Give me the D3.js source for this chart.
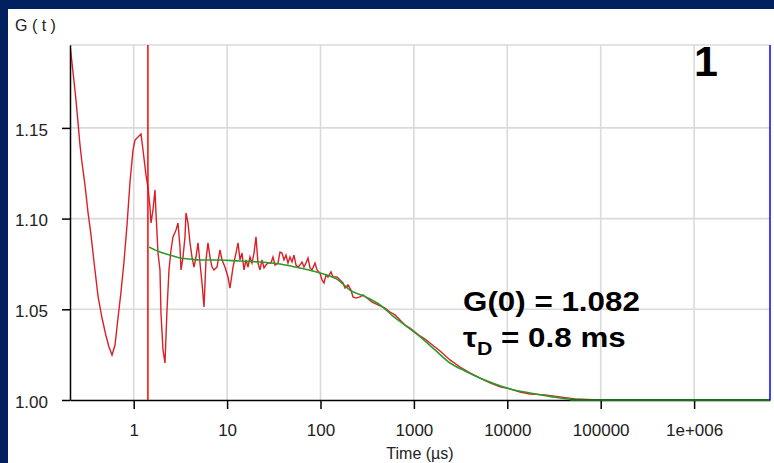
<!DOCTYPE html>
<html>
<head>
<meta charset="utf-8">
<script src="https://cdn.jsdelivr.net/npm/d3@7"></script>
<style>
  body { margin: 0; background: #002060; }
  svg { display: block; }
</style>
</head>
<body>
<div id="chart"></div>
<script>
// correlation data, time in microseconds
var redTime = [
  0.208,0.218,0.230,0.241,0.253,0.266,0.279,0.301,0.324,0.349,
  0.376,0.415,0.458,0.506,0.544,0.586,0.631,0.679,0.731,0.787,
  0.848,0.913,0.983,1.033,1.112,1.197,1.258,1.354,1.422,1.494,
  1.532,1.609,1.690,1.733,1.820,1.912,1.959,2.059,2.163,2.273,
  2.387,2.508,2.635,2.838,2.981,3.131,3.209,3.372,3.542,3.631,
  3.814,4.007,4.209,4.422,4.645,4.880,5.127,5.386,5.658,5.944,
  6.244,6.560,6.891,7.239,7.797,8.395,8.819,9.495,10.22,10.74,
  11.57,12.45,13.09,13.74,14.44,15.17,15.94,16.74,17.59,18.48,
  19.41,20.39,21.42,22.50,23.64,24.83,26.09,27.41,29.51,31.00,
  32.57,35.07,36.85,38.71,40.67,42.72,44.88,47.15,49.54,52.04,
  54.67,57.43,60.33,63.38,66.59,69.96,73.49,77.20,81.10,87.35,
  91.75,98.76,103.8,109.0,114.5,120.3,129.6,136.1,150.2,161.8,
  174.1,183.0,197.0,212.1,222.8,240.0,264.8,285.1,314.8,356.0,
  412.8,490.4,554.8,627.8,710.0,803.1,908.2,1027,1162,1315,
  1487,1903,2435,3116,3987,5101,6528,8353,10690,13680,
  17500,25330,36660,53060,98280,1157000,6496000
];
var redG = [
  1.1957,1.1863,1.1753,1.1654,1.1533,1.1406,1.1312,1.1185,1.1036,1.0910,
  1.0761,1.0573,1.0452,1.0353,1.0292,1.0248,1.0303,1.0452,1.0595,1.0761,
  1.0965,1.1202,1.1378,1.1433,1.1450,1.1466,1.1378,1.1240,1.1174,1.1064,
  1.0976,1.1047,1.1158,1.1031,1.0810,1.0717,1.0480,1.0276,1.0204,1.0496,
  1.0717,1.0827,1.0899,1.0937,1.0976,1.0843,1.0717,1.0788,1.0899,1.1031,
  1.0976,1.0866,1.0788,1.0733,1.0788,1.0866,1.0755,1.0645,1.0513,1.0772,
  1.0866,1.0788,1.0733,1.0717,1.0733,1.0827,1.0772,1.0733,1.0678,1.0617,
  1.0733,1.0810,1.0866,1.0772,1.0810,1.0717,1.0772,1.0733,1.0788,1.0755,
  1.0810,1.0899,1.0755,1.0717,1.0772,1.0728,1.0744,1.0755,1.0755,1.0788,
  1.0744,1.0755,1.0816,1.0810,1.0772,1.0799,1.0755,1.0788,1.0761,1.0799,
  1.0744,1.0733,1.0744,1.0761,1.0733,1.0755,1.0783,1.0728,1.0717,1.0755,
  1.0717,1.0700,1.0662,1.0645,1.0689,1.0678,1.0706,1.0678,1.0678,1.0662,
  1.0645,1.0617,1.0634,1.0606,1.0568,1.0562,1.0568,1.0579,1.0562,1.0540,
  1.0524,1.0507,1.0485,1.0469,1.0441,1.0413,1.0397,1.0375,1.0353,1.0336,
  1.0314,1.0270,1.0221,1.0182,1.0149,1.0121,1.0094,1.0072,1.0061,1.0044,
  1.0033,1.0028,1.0017,1.0006,1.0000,1.0000,1.0000
];

// fitted curve
var fitTime = [1.46,1.91,2.45,3.13,4.0,5.13,8.4,13.7,22.5,36.9,
  60.3,98.8,154,207,300,434,597,803,1162,1683,
  2435,3525,5101,7386,10690,17500,28650,46880,98280,6496000];
var fitG = [1.0843,1.0816,1.0799,1.0783,1.0777,1.0772,1.0772,1.0766,1.0761,1.0750,
  1.0728,1.0700,1.0662,1.0606,1.0570,1.0524,1.0463,1.0413,1.0349,1.0276,
  1.0204,1.0160,1.0121,1.0088,1.0061,1.0039,1.0020,1.0004,1.0000,1.0000];

var cursorTime = 1.42;
var xTicks = [1, 10, 100, 1000, 10000, 100000, 1000000];
var xTickLabels = ["1", "10", "100", "1000", "10000", "100000", "1e+006"];
var yTicks = [1.00, 1.05, 1.10, 1.15];
var xRange = [0.208, 6496000];
var yRange = [1.0, 1.1957];

var W = 774, H = 463;
var pLeft = 70, pRight = 770, pTop = 45, pBottom = 400;
var font = "'Liberation Sans', Arial, sans-serif";

var svg = d3.select("#chart").append("svg")
  .attr("width", W).attr("height", H);

// white panel on the navy slide
svg.append("rect").attr("x", 8).attr("y", 9)
  .attr("width", W - 8).attr("height", H - 9).style("fill", "#fff");

var x = d3.scaleLog().domain(xRange).range([pLeft, pRight]);
var y = d3.scaleLinear().domain(yRange).range([pBottom, pTop]);

svg.append("clipPath").attr("id", "plot")
  .append("rect").attr("x", pLeft).attr("y", pTop)
  .attr("width", pRight - pLeft).attr("height", pBottom - pTop + 2);

// grid
var grid = svg.append("g").style("stroke", "#dadada").style("stroke-width", 1.6);
grid.selectAll("line.v").data(xTicks).enter().append("line")
  .attr("x1", function(d) { return x(d); }).attr("x2", function(d) { return x(d); })
  .attr("y1", pTop).attr("y2", pBottom);
grid.selectAll("line.h").data(yTicks.slice(1).concat([yRange[1]])).enter().append("line")
  .attr("x1", pLeft).attr("x2", pRight)
  .attr("y1", function(d) { return y(d); }).attr("y2", function(d) { return y(d); });

// data
var red = d3.zip(redTime, redG);
var fit = d3.zip(fitTime, fitG);
var line = d3.line()
  .x(function(d) { return x(d[0]); })
  .y(function(d) { return y(d[1]); });

var plot = svg.append("g").attr("clip-path", "url(#plot)");
plot.append("path").datum(red).attr("d", line)
  .style("fill", "none").style("stroke", "#d92027").style("stroke-width", 1.4);

// axes
var xAxis = svg.append("g").attr("transform", "translate(0," + pBottom + ")")
  .call(d3.axisBottom(x).tickValues(xTicks)
    .tickFormat(function(d, i) { return xTickLabels[i]; })
    .tickSize(9).tickSizeOuter(0).tickPadding(15));
var yAxis = svg.append("g").attr("transform", "translate(" + pLeft + ",0)")
  .call(d3.axisLeft(y).tickValues(yTicks).tickFormat(d3.format(".2f"))
    .tickSize(8).tickSizeOuter(0).tickPadding(14));
[xAxis, yAxis].forEach(function(a) {
  a.selectAll("path, line").style("stroke", "#000").style("stroke-width", 1.5);
  a.selectAll("text").style("font-family", font).style("font-size", "17px").style("fill", "#222");
});
yAxis.selectAll("text").attr("dy", "0.42em");

// fit drawn over the axis line, like the original
var fitLayer = svg.append("g").attr("clip-path", "url(#plot)");
fitLayer.append("path").datum(fit).attr("d", line.curve(d3.curveMonotoneX))
  .style("fill", "none").style("stroke", "#2b9a2b").style("stroke-width", 1.6);
fitLayer.append("line").attr("x1", x(fitTime[fitTime.length - 3])).attr("x2", pRight)
  .attr("y1", y(1)).attr("y2", y(1))
  .style("stroke", "#1c6e1c").style("stroke-width", 2);

// cursor and right edge marker
svg.append("line").attr("x1", x(cursorTime)).attr("x2", x(cursorTime))
  .attr("y1", pTop).attr("y2", pBottom).style("stroke", "#ff0000").style("stroke-width", 1.5);
svg.append("line").attr("x1", pRight).attr("x2", pRight)
  .attr("y1", pTop).attr("y2", pBottom).style("stroke", "#0000ff").style("stroke-width", 1.5);

// labels
svg.append("text").attr("x", 15).attr("y", 31).text("G ( t )")
  .style("font-family", font).style("font-size", "16px").style("fill", "#222");
svg.append("text").attr("x", 420).attr("y", 459).text("Time (µs)")
  .attr("text-anchor", "middle")
  .style("font-family", font).style("font-size", "16px").style("fill", "#222");

svg.append("text").attr("x", 694).attr("y", 76).text("1")
  .style("font-family", font).style("font-size", "43px").style("font-weight", "bold");

var note = svg.append("g").attr("transform", "translate(463,0) scale(1.12,1)")
  .style("font-family", font).style("font-weight", "bold").style("font-size", "28px");
note.append("text").attr("x", 0).attr("y", 311).text("G(0) = 1.082");
var t2 = note.append("text").attr("x", 0).attr("y", 347);
t2.append("tspan").text("τ");
t2.append("tspan").attr("dy", 8).style("font-size", "19px").text("D");
t2.append("tspan").attr("dy", -8).text(" = 0.8 ms");
</script>
</body>
</html>
